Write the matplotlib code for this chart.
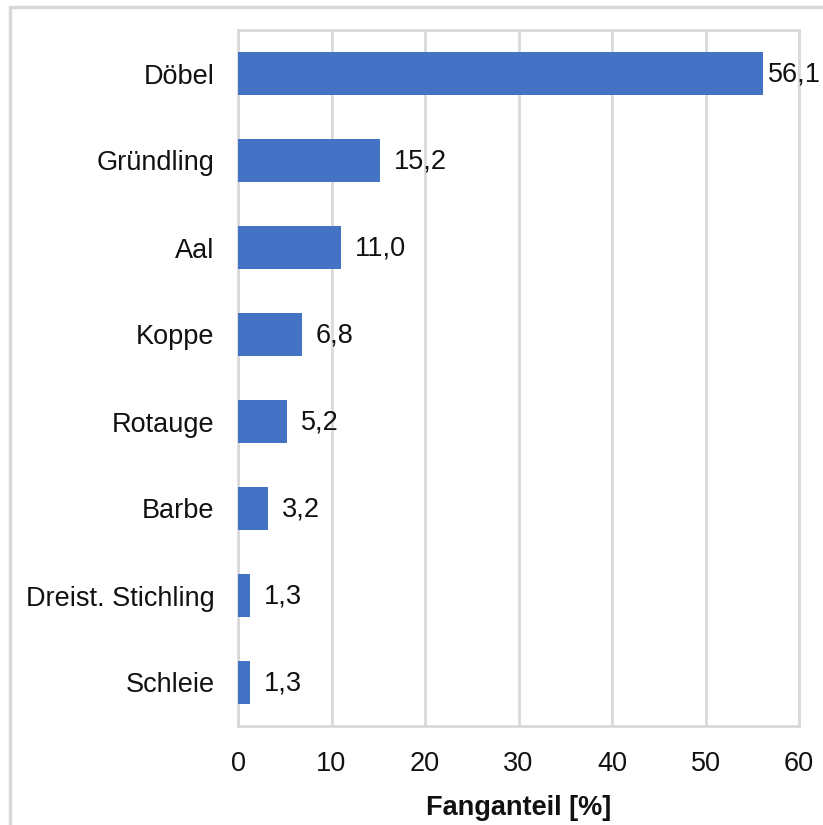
import matplotlib.pyplot as plt
from matplotlib.patches import Rectangle

species = ["Döbel", "Gründling", "Aal", "Koppe", "Rotauge", "Barbe",
           "Dreist. Stichling", "Schleie"]
anteil = [56.1, 15.2, 11.0, 6.8, 5.2, 3.2, 1.3, 1.3]
xticks = [0, 10, 20, 30, 40, 50, 60]

bar_color = "#4472C4"
grid_color = "#D9D9D9"
text_color = "#111111"

plt.rcParams["font.family"] = ["Liberation Sans", "DejaVu Sans"]

fig = plt.figure(figsize=(8.23, 8.25), dpi=100)
ax = fig.add_axes([238 / 823, 99 / 825, 561 / 823, 696 / 825])

ypos = list(range(len(species)))
bars = ax.barh(ypos, anteil, height=0.5, color=bar_color, zorder=3)

# Werte an die Balken schreiben (deutsches Dezimalkomma)
for rect, val in zip(bars, anteil):
    pad = 4 if val > 50 else 10
    ax.annotate(f"{val:.1f}".replace(".", ","),
                xy=(rect.get_width(), rect.get_y() + rect.get_height() / 2),
                xytext=(pad, -1), textcoords="offset points",
                va="center", ha="left", fontsize=19.5, color=text_color,
                annotation_clip=False)

ax.set_yticks(ypos)
ax.set_yticklabels(species)
ax.set_ylim(len(species) - 0.5, -0.5)
ax.set_xlim(0, 60)
ax.set_xticks(xticks)
ax.tick_params(axis="both", length=0, labelsize=19.5, colors=text_color)
ax.tick_params(axis="y", pad=17)
ax.tick_params(axis="x", pad=18)

ax.xaxis.grid(True, color=grid_color, linewidth=2, zorder=0)
for side in ["top", "right", "bottom", "left"]:
    ax.spines[side].set_color(grid_color)
    ax.spines[side].set_linewidth(2)

ax.set_xlabel("Fanganteil [%]", fontsize=19.5, fontweight="bold",
              labelpad=13, color=text_color)

# Rahmen um das gesamte Diagramm
fig.patches.append(Rectangle((10 / 823, -0.1), 1.2, 1.1 - 7 / 825,
                             transform=fig.transFigure, fill=False,
                             edgecolor=grid_color, linewidth=2.5))

fig.savefig("out.png", dpi=100)
